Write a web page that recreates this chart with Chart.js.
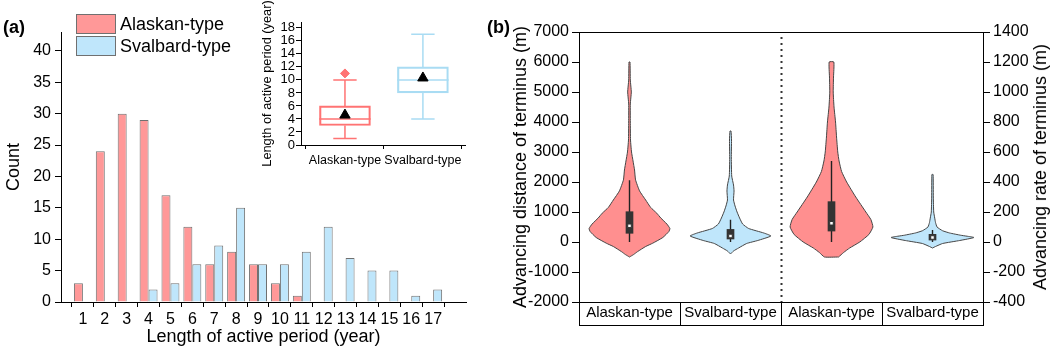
<!DOCTYPE html>
<html lang="en">
<head>
<meta charset="UTF-8">
<title>Active period and terminus advance</title>
<style>
  body { margin: 0; background: #fff; font-family: "Liberation Sans", Arial, sans-serif; }
  #wrap { position: relative; width: 1052px; height: 348px; overflow: hidden; background: #fff; }
  canvas { position: absolute; top: 0; }
  .lbl { position: absolute; color: #000; white-space: nowrap; font-size: 18px; line-height: 20px; }
  .panel { font-weight: bold; }
  .key { position: absolute; width: 38px; height: 18px; border: 1px solid #707070; }
</style>
<script src="https://cdn.jsdelivr.net/npm/chart.js"></script>
</head>
<body>
<div id="wrap">
  <canvas id="histo" width="480" height="348" style="left:0"></canvas>
  <canvas id="inset" width="225" height="190" style="left:250px"></canvas>
  <canvas id="violin" width="552" height="348" style="left:500px"></canvas>
  <div class="lbl panel" style="left:3px;top:17px">(a)</div>
  <div class="lbl panel" style="left:487px;top:17px">(b)</div>
  <div class="key" style="left:76px;top:14px;background:#ff9898"></div>
  <div class="lbl" style="left:120px;top:14px">Alaskan-type</div>
  <div class="key" style="left:76px;top:36px;background:#bfe6fb"></div>
  <div class="lbl" style="left:120px;top:36px">Svalbard-type</div>
  <div class="lbl" style="left:1040px;top:167px;transform:translate(-50%,-50%) rotate(-90deg)">Advancing rate of terminus (m)</div>
</div>
<script>
Chart.defaults.font.family = "'Liberation Sans', Arial, sans-serif";
Chart.defaults.color = '#000';

// (a) histogram
const years = [1, 2, 3, 4, 5, 6, 7, 8, 9, 10, 11, 12, 13, 14, 15, 16, 17];
const alaskanCount = [3, 24, 30, 29, 17, 12, 6, 8, 6, 3, 1, 0, 0, 0, 0, 0, 0];
const svalbardCount = [0, 0, 0, 2, 3, 6, 9, 15, 6, 6, 8, 12, 7, 5, 5, 1, 2];

// (a) inset box plot
const boxGroups = ['Alaskan-type', 'Svalbard-type'];
const boxMin = [1, 4];
const boxQ1 = [3, 8];
const boxMedian = [4, 10];
const boxQ3 = [6, 12];
const boxMax = [10, 17];
const boxMean = [4.6, 10.3];
const boxOutlier = [11, null];

// (b) violins: levels and half widths (in group spacing units)
const violinGroups = ['Alaskan-type', 'Svalbard-type', 'Alaskan-type', 'Svalbard-type'];
const alaskanDistLevel = [-500, -420, -320, -150, -40, 150, 350, 450, 600, 800, 960, 1150, 1400, 1700, 2070, 2400, 2700, 3000, 3400, 4000, 4600, 5000, 5400, 6000];
const alaskanDistWidth = [0, 0.04, 0.08, 0.16, 0.23, 0.33, 0.39, 0.40, 0.37, 0.31, 0.27, 0.21, 0.16, 0.10, 0.06, 0.05, 0.035, 0.02, 0.01, 0.008, 0.008, 0.018, 0.008, 0.005];
const svalbardDistLevel = [-400, -300, -200, -50, 50, 200, 300, 450, 600, 800, 1000, 1200, 1400, 1700, 1900, 2200, 2800, 3400, 3700];
const svalbardDistWidth = [0, 0.03, 0.08, 0.16, 0.27, 0.40, 0.33, 0.18, 0.12, 0.09, 0.065, 0.045, 0.03, 0.035, 0.03, 0.012, 0.008, 0.01, 0.005];
const alaskanRateLevel = [-100, -70, -40, 0, 50, 100, 150, 200, 300, 400, 470, 540, 600, 700, 800, 900, 1000, 1100, 1200];
const alaskanRateWidth = [0.07, 0.12, 0.18, 0.28, 0.37, 0.41, 0.39, 0.34, 0.24, 0.15, 0.10, 0.075, 0.062, 0.05, 0.04, 0.025, 0.017, 0.02, 0.023];
const svalbardRateLevel = [-40, -30, -10, 10, 30, 45, 60, 75, 100, 130, 160, 200, 300, 450];
const svalbardRateWidth = [0, 0.03, 0.10, 0.27, 0.41, 0.28, 0.17, 0.10, 0.045, 0.03, 0.022, 0.012, 0.008, 0.006];
const violinQ1 = [290, 100, 73, 13];
const violinQ3 = [1010, 420, 269, 51];
const violinLow = [0, 0, 0, 0];
const violinHigh = [2060, 740, 540, 80];
const violinMedian = [540, 200, 125, 30];

const red = '#ff9898', blue = '#bfe6fb';
const violinRed = '#ff8f8f', violinBlue = '#bfe6fb';
const boxRed = '#ff7373', boxBlue = '#a9dcf3';
const plain = v => String(v);

new Chart(document.getElementById('histo'), {
  type: 'bar',
  data: {
    datasets: [
      { data: years.map((v, i) => ({ x: v, y: alaskanCount[i] || null })), backgroundColor: red, borderColor: '#707070', borderWidth: 1 },
      { data: years.map((v, i) => ({ x: v, y: svalbardCount[i] || null })), backgroundColor: blue, borderColor: '#707070', borderWidth: 1 }
    ]
  },
  options: {
    responsive: false, animation: false,
    categoryPercentage: 0.82, barPercentage: 1,
    layout: { padding: { top: 32, right: 14, left: 0, bottom: 0 } },
    plugins: { legend: { display: false }, tooltip: { enabled: false } },
    scales: {
      x: {
        type: 'linear', min: 0, max: 18.5, offset: false,
        afterBuildTicks: s => { s.ticks = years.map(v => ({ value: v })); },
        afterFit: s => { s.height = 46; },
        grid: { drawOnChartArea: false, tickLength: 5, color: '#000' },
        border: { color: '#000', width: 1 },
        ticks: { font: { size: 16 }, color: '#000', padding: 3, maxRotation: 0, autoSkip: false, callback: plain },
        title: { display: true, text: 'Length of active period (year)', font: { size: 18 }, color: '#000', padding: { top: 0, bottom: 0 } }
      },
      y: {
        min: 0, max: 43,
        afterFit: s => { s.width = 61; },
        grid: { drawOnChartArea: false, tickLength: 6, color: '#000' },
        border: { color: '#000', width: 1 },
        ticks: { stepSize: 5, includeBounds: false, autoSkip: false, font: { size: 16 }, color: '#000', padding: 4, callback: plain },
        title: { display: true, text: 'Count', font: { size: 18 }, color: '#000', padding: { top: 3, bottom: 0 } }
      }
    }
  }
});

function boxSegments(i) {
  const c = i + 1, cap = 0.15, half = 0.33;
  return [
    { x: c - cap, y: boxMin[i] }, { x: c + cap, y: boxMin[i] }, { x: c, y: null },
    { x: c, y: boxMin[i] }, { x: c, y: boxQ1[i] }, { x: c, y: null },
    { x: c, y: boxQ3[i] }, { x: c, y: boxMax[i] }, { x: c, y: null },
    { x: c - cap, y: boxMax[i] }, { x: c + cap, y: boxMax[i] }, { x: c, y: null },
    { x: c - half, y: boxMedian[i] }, { x: c + half, y: boxMedian[i] }
  ];
}

new Chart(document.getElementById('inset'), {
  type: 'bar',
  data: {
    datasets: [
      { type: 'line', data: boxSegments(0), borderColor: boxRed, borderWidth: 1.5, pointRadius: 0, order: 3 },
      { type: 'line', data: boxSegments(1), borderColor: boxBlue, borderWidth: 1.5, pointRadius: 0, order: 3 },
      { type: 'bar', grouped: false, barThickness: 51, data: boxGroups.map((g, i) => ({ x: i + 1, y: [boxQ1[i], boxQ3[i]] })),
        backgroundColor: 'rgba(255,255,255,0)', borderColor: [boxRed, boxBlue], borderWidth: 1.5, borderSkipped: false, order: 2 },
      { type: 'line', showLine: false, data: boxGroups.map((g, i) => ({ x: i + 1, y: boxOutlier[i] })),
        pointStyle: 'rectRot', pointRadius: 4.5, pointBackgroundColor: boxRed, pointBorderColor: boxRed, order: 1 },
      { type: 'line', showLine: false, data: boxGroups.map((g, i) => ({ x: i + 1, y: boxMean[i] })),
        pointStyle: 'triangle', pointRadius: 6, pointBackgroundColor: '#000', pointBorderColor: '#000', order: 0 }
    ]
  },
  options: {
    responsive: false, animation: false,
    layout: { padding: { top: 22, right: 10, left: 0, bottom: 0 } },
    plugins: { legend: { display: false }, tooltip: { enabled: false } },
    scales: {
      x: {
        type: 'linear', min: 0.436, max: 2.54, offset: false,
        afterBuildTicks: s => { s.ticks = boxGroups.map((g, i) => ({ value: i + 1 })); },
        afterFit: s => { s.height = 45; },
        grid: { drawOnChartArea: false, tickLength: 4, color: '#000' },
        border: { color: '#000', width: 1 },
        ticks: { font: { size: 12.5 }, color: '#000', padding: 4, maxRotation: 0, autoSkip: false,
                 callback: v => boxGroups[v - 1] }
      },
      y: {
        min: 0, max: 18.9,
        afterFit: s => { s.width = 51; },
        grid: { drawOnChartArea: false, tickLength: 5, color: '#000' },
        border: { color: '#000', width: 1 },
        ticks: { stepSize: 2, includeBounds: false, autoSkip: false, font: { size: 13 }, color: '#000', padding: 1, callback: plain },
        title: { display: true, text: 'Length of active period (year)', font: { size: 12.8 }, color: '#000', padding: { top: 10, bottom: 0 } }
      }
    }
  }
});

function violinShape(center, levels, widths) {
  const right = levels.map((v, i) => ({ x: center + widths[i], y: v }));
  const left = levels.map((v, i) => ({ x: center - widths[i], y: v })).reverse();
  const pts = right.concat(left);
  pts.push(pts[0]);
  return pts;
}

function violinSet(center, levels, widths, color, axis) {
  return { type: 'line', yAxisID: axis, data: violinShape(center, levels, widths), fill: 'shape',
           backgroundColor: color, borderColor: '#454545', borderWidth: 1, pointRadius: 0, tension: 0.15, order: 5 };
}

const whiskerData = axisIdx => axisIdx.flatMap((i, k) => {
  const seg = [{ x: i + 1, y: violinLow[i] }, { x: i + 1, y: violinHigh[i] }];
  return k ? [{ x: i + 0.5, y: null }].concat(seg) : seg;
});

// dotted divider between the two panels and the label band under the plot
const bandPlugin = {
  id: 'band',
  beforeDatasetsDraw(chart) {
    const { ctx, chartArea } = chart;
    const x = chart.scales.x;
    const px = Math.round(x.getPixelForValue(2.5)) + 0.5;
    ctx.save();
    ctx.strokeStyle = '#333';
    ctx.lineWidth = 2;
    ctx.setLineDash([2, 4]);
    ctx.beginPath();
    ctx.moveTo(px, chartArea.top + 5);
    ctx.lineTo(px, chartArea.bottom);
    ctx.stroke();
    ctx.restore();
  },
  afterDraw(chart) {
    const { ctx } = chart;
    const x = chart.scales.x;
    const top = Math.round(x.top) + 0.5;
    const yb = Math.round(x.top + 23) + 0.5;
    ctx.save();
    ctx.strokeStyle = '#000';
    ctx.lineWidth = 1;
    ctx.beginPath();
    for (let i = 0; i <= violinGroups.length; i++) {
      const px = Math.round(x.getPixelForValue(i + 0.5)) + 0.5;
      ctx.moveTo(px, top);
      ctx.lineTo(px, yb);
    }
    ctx.moveTo(x.left, yb);
    ctx.lineTo(x.right + 1, yb);
    ctx.stroke();
    ctx.restore();
  }
};

new Chart(document.getElementById('violin'), {
  type: 'line',
  data: {
    datasets: [
      violinSet(1, alaskanDistLevel, alaskanDistWidth, violinRed, 'y'),
      violinSet(2, svalbardDistLevel, svalbardDistWidth, violinBlue, 'y'),
      violinSet(3, alaskanRateLevel, alaskanRateWidth, violinRed, 'y2'),
      violinSet(4, svalbardRateLevel, svalbardRateWidth, violinBlue, 'y2'),
      { type: 'line', yAxisID: 'y', data: whiskerData([0, 1]), borderColor: '#222', borderWidth: 1.4, pointRadius: 0, order: 4 },
      { type: 'line', yAxisID: 'y2', data: whiskerData([2, 3]), borderColor: '#222', borderWidth: 1.4, pointRadius: 0, order: 4 },
      { type: 'bar', yAxisID: 'y', grouped: false, barThickness: 7, backgroundColor: '#333', borderWidth: 0, order: 3,
        data: [0, 1].map(i => ({ x: i + 1, y: [violinQ1[i], violinQ3[i]] })) },
      { type: 'bar', yAxisID: 'y2', grouped: false, barThickness: 7, backgroundColor: '#333', borderWidth: 0, order: 3,
        data: [2, 3].map(i => ({ x: i + 1, y: [violinQ1[i], violinQ3[i]] })) },
      { type: 'line', yAxisID: 'y', showLine: false, pointStyle: 'rect', pointRadius: 2.5, pointBackgroundColor: '#fff',
        pointBorderColor: '#333', pointBorderWidth: 1, order: 1, data: [0, 1].map(i => ({ x: i + 1, y: violinMedian[i] })) },
      { type: 'line', yAxisID: 'y2', showLine: false, pointStyle: 'rect', pointRadius: 2.5, pointBackgroundColor: '#fff',
        pointBorderColor: '#333', pointBorderWidth: 1, order: 1, data: [2, 3].map(i => ({ x: i + 1, y: violinMedian[i] })) }
    ]
  },
  options: {
    responsive: false, animation: false,
    layout: { padding: { top: 32, right: 0, left: 0, bottom: 0 } },
    plugins: { legend: { display: false }, tooltip: { enabled: false } },
    scales: {
      x: {
        type: 'linear', min: 0.5, max: violinGroups.length + 0.5, offset: false,
        afterBuildTicks: s => { s.ticks = violinGroups.map((g, i) => ({ value: i + 1 })); },
        afterFit: s => { s.height = 46; },
        grid: { display: false, drawTicks: false },
        border: { color: '#000', width: 1 },
        ticks: { font: { size: 15 }, color: '#000', padding: 2, maxRotation: 0, autoSkip: false,
                 callback: v => violinGroups[v - 1] }
      },
      xTop: {
        type: 'linear', position: 'top', min: 0.5, max: 4.5,
        afterFit: s => { s.height = 0; },
        grid: { display: false, drawTicks: false },
        border: { display: true, color: '#000', width: 1 },
        ticks: { display: false }
      },
      y: {
        min: -2000, max: 7000,
        afterFit: s => { s.width = 79; },
        grid: { drawOnChartArea: false, tickLength: 7, color: '#000' },
        border: { color: '#000', width: 1 },
        ticks: { stepSize: 1000, autoSkip: false, font: { size: 16 }, color: '#000', padding: 3, callback: plain },
        title: { display: true, text: 'Advancing distance of terminus (m)', font: { size: 18 }, color: '#000', padding: { top: 10, bottom: 0 } }
      },
      y2: {
        position: 'right', min: -400, max: 1400,
        afterFit: s => { s.width = 69; },
        grid: { drawOnChartArea: false, tickLength: 7, color: '#000' },
        border: { color: '#000', width: 1 },
        ticks: { stepSize: 200, autoSkip: false, font: { size: 16 }, color: '#000', padding: 3, callback: plain }
      }
    }
  },
  plugins: [bandPlugin]
});
</script>
</body>
</html>
